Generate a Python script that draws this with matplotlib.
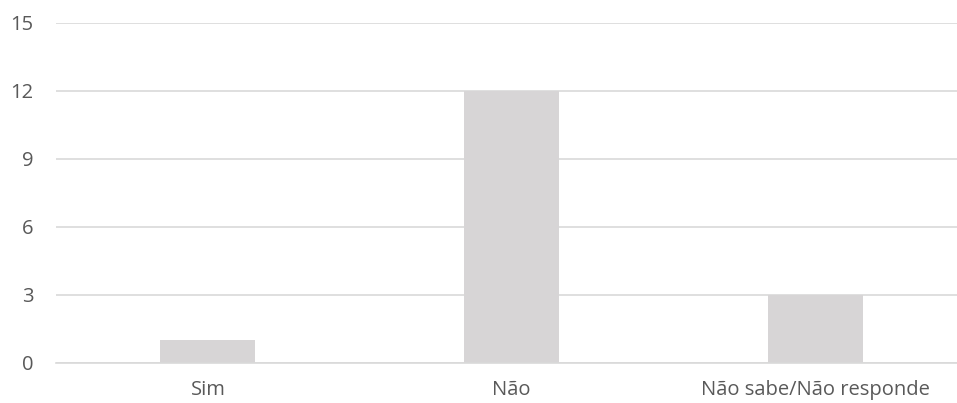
import matplotlib
matplotlib.use("Agg")
import matplotlib.pyplot as plt

# answers and counts
categories = ["Sim", "Não", "Não sabe/Não responde"]
counts = [1, 12, 3]
y_ticks = [0, 3, 6, 9, 12, 15]

plt.rcParams['font.family'] = ['Open Sans', 'DejaVu Sans']

fig = plt.figure(figsize=(9.57, 4.03), dpi=100)
ax = fig.add_axes([56.2 / 957, 40.5 / 403, 910.6 / 957, 339.5 / 403])

x = range(len(categories))
ax.bar(x, counts, width=0.313, color='#D7D5D6', zorder=2)

ax.set_xlim(-0.5, len(categories) - 0.5)
ax.set_ylim(0, 15)
ax.set_yticks(y_ticks)
ax.set_xticks(list(x))
ax.set_xticklabels(categories)

ax.yaxis.grid(True, color='#D9D9D9', linewidth=1.2, zorder=0)
ax.set_axisbelow(True)
for side in ['top', 'right', 'left']:
    ax.spines[side].set_visible(False)
ax.spines['bottom'].set_color('#D9D9D9')
ax.spines['bottom'].set_linewidth(1.2)

ax.tick_params(axis='both', length=0, labelsize=14.5, colors='#595959')
ax.tick_params(axis='y', pad=16.5)
ax.tick_params(axis='x', pad=12.5)

fig.savefig("out.png", dpi=100)
